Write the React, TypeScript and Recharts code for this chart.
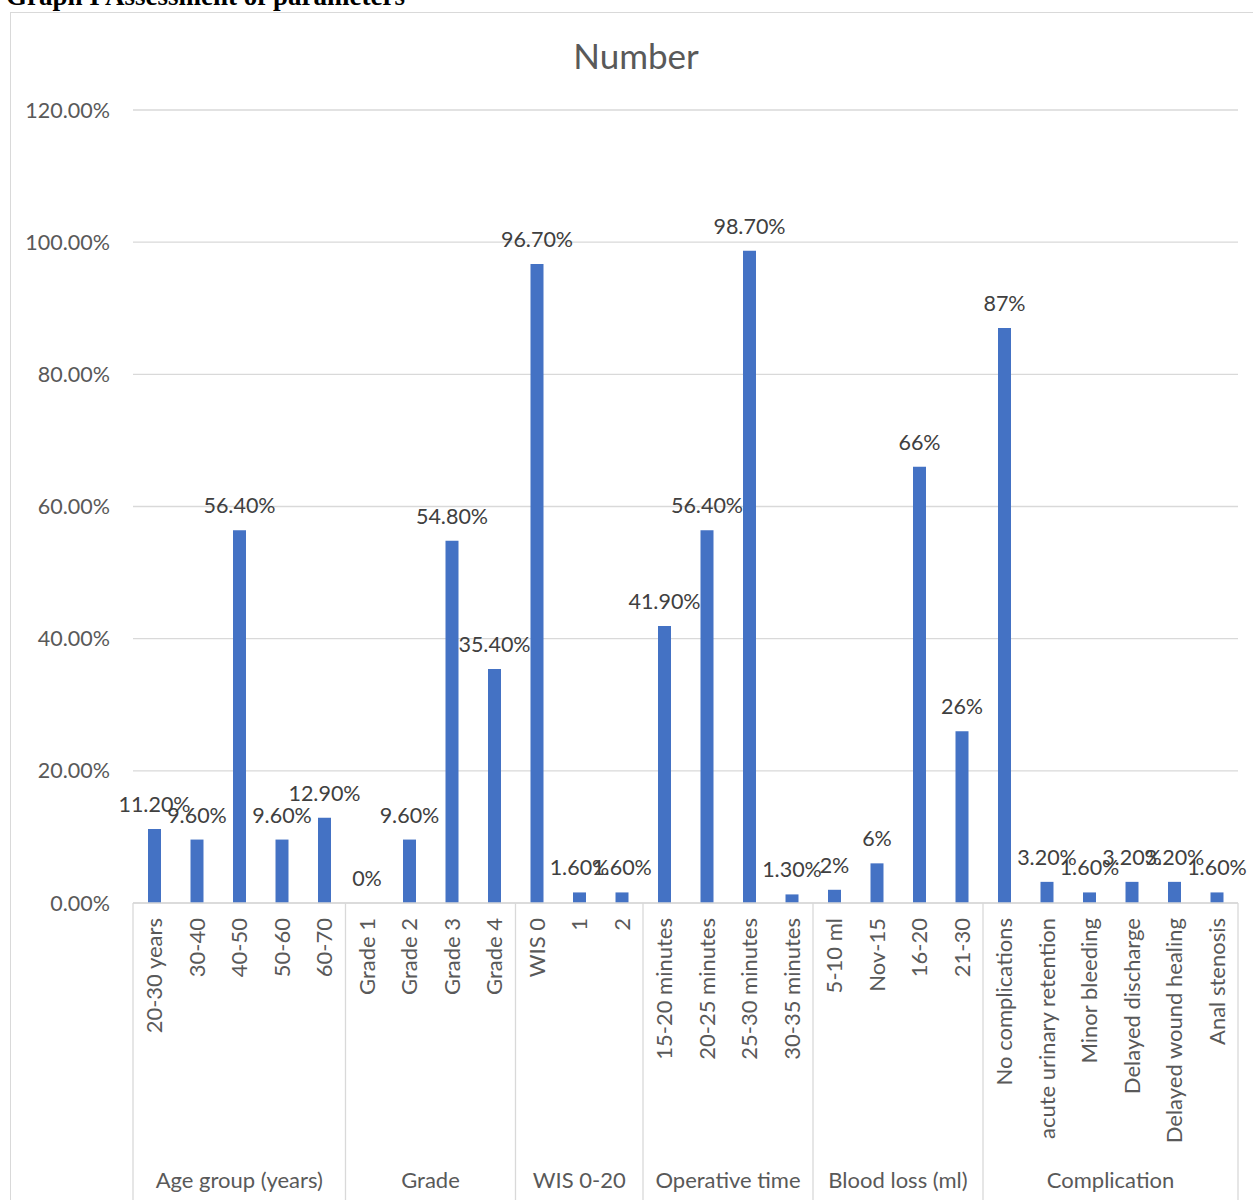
import { BarChart, Bar, XAxis, YAxis, CartesianGrid, LabelList } from 'recharts';

const categories = [
  '20-30 years', '30-40', '40-50', '50-60', '60-70',
  'Grade 1', 'Grade 2', 'Grade 3', 'Grade 4',
  'WIS 0', '1', '2',
  '15-20 minutes', '20-25 minutes', '25-30 minutes', '30-35 minutes',
  '5-10 ml', 'Nov-15', '16-20', '21-30',
  'No complications', 'acute urinary retention', 'Minor bleeding', 'Delayed discharge', 'Delayed wound healing', 'Anal stenosis',
];

const values = [
  0.112, 0.096, 0.564, 0.096, 0.129,
  0, 0.096, 0.548, 0.354,
  0.967, 0.016, 0.016,
  0.419, 0.564, 0.987, 0.013,
  0.02, 0.06, 0.66, 0.26,
  0.87, 0.032, 0.016, 0.032, 0.032, 0.016,
];

const valueLabels = [
  '11.20%', '9.60%', '56.40%', '9.60%', '12.90%',
  '0%', '9.60%', '54.80%', '35.40%',
  '96.70%', '1.60%', '1.60%',
  '41.90%', '56.40%', '98.70%', '1.30%',
  '2%', '6%', '66%', '26%',
  '87%', '3.20%', '1.60%', '3.20%', '3.20%', '1.60%',
];

const groupNames = ['Age group (years)', 'Grade', 'WIS 0-20', 'Operative time', 'Blood loss (ml)', 'Complication'];
const groupSizes = [5, 4, 3, 4, 4, 6];

const yTicks = [0, 0.2, 0.4, 0.6, 0.8, 1.0, 1.2];

// build rows, remembering where each group starts
const groupStart: number[] = [];
groupSizes.reduce((acc, n) => { groupStart.push(acc); return acc + n; }, 0);

const chartData = categories.map((name, i) => {
  let g = 0;
  while (g + 1 < groupStart.length && groupStart[g + 1] <= i) g++;
  return { name, value: values[i], label: valueLabels[i], group: g };
});

const CHART_W = 1250;
const CHART_H = 1195;
const MARGIN = { top: 97, right: 23, bottom: 0, left: 0 };
const Y_W = 122;
const X_H = 305;
const PLOT_W = CHART_W - MARGIN.left - MARGIN.right - Y_W;

const FONT = 'Lato, "Open Sans", sans-serif';

const CategoryTick = (props: any) => {
  const { x, y, index } = props;
  const row = chartData[index];
  if (!row) return null;
  const bw = PLOT_W / chartData.length;
  const g = row.group;
  const isFirst = groupStart[g] === index;
  const isLast = index === chartData.length - 1;
  return (
    <g>
      <text
        x={x}
        y={y + 15}
        transform={`rotate(-90 ${x} ${y + 15})`}
        textAnchor="end"
        dy="0.36em"
        fontSize={22}
        fill="#595959"
        fontFamily={FONT}
      >
        {row.name}
      </text>
      {isFirst && (
        <>
          <line x1={x - bw / 2} y1={y} x2={x - bw / 2} y2={y + X_H} stroke="#d9d9d9" strokeWidth={1.3} />
          <text
            x={x + (groupSizes[g] / 2 - 0.5) * bw}
            y={y + 285}
            textAnchor="middle"
            fontSize={22}
            fill="#595959"
            fontFamily={FONT}
          >
            {groupNames[g]}
          </text>
        </>
      )}
      {isLast && (
        <line x1={x + bw / 2} y1={y} x2={x + bw / 2} y2={y + X_H} stroke="#d9d9d9" strokeWidth={1.3} />
      )}
    </g>
  );
};

export default function App() {
  return (
    <div style={{ position: 'absolute', left: 0, top: 0, width: 1253, height: 1200, overflow: 'hidden', background: '#fff' }}>
      <div
        style={{
          position: 'absolute', left: 6, top: -17, fontFamily: '"Liberation Serif", serif',
          fontWeight: 'bold', fontSize: 27, lineHeight: '27px', color: '#000', whiteSpace: 'nowrap',
        }}
      >
        Graph I Assessment of parameters
      </div>
      <div style={{ position: 'absolute', left: 10, top: 12, width: 1260, height: 1220, border: '1px solid #d9d9d9' }}>
        <div
          style={{
            position: 'absolute', left: 0, top: 22, width: CHART_W, textAlign: 'center',
            fontFamily: FONT, fontSize: 35, lineHeight: '40px', color: '#595959',
          }}
        >
          Number
        </div>
        <BarChart width={CHART_W} height={CHART_H} data={chartData} margin={MARGIN}>
          <CartesianGrid vertical={false} stroke="#d9d9d9" strokeWidth={1.3} />
          <XAxis
            dataKey="name"
            interval={0}
            height={X_H}
            tickLine={false}
            tickSize={0}
            tickMargin={0}
            axisLine={{ stroke: '#d9d9d9', strokeWidth: 1.3 }}
            tick={<CategoryTick />}
          />
          <YAxis
            width={Y_W}
            domain={[0, 1.2]}
            ticks={yTicks}
            axisLine={false}
            tickLine={false}
            tickSize={0}
            tickMargin={23}
            tickFormatter={(v: number) => `${(v * 100).toFixed(2)}%`}
            tick={{ fontSize: 21.5, fill: '#595959', fontFamily: FONT }}
          />
          <Bar dataKey="value" fill="#4472C4" barSize={13} minPointSize={0.01} isAnimationActive={false}>
            <LabelList dataKey="label" position="top" offset={17} fontSize={21.5} fill="#404040" fontFamily={FONT} />
          </Bar>
        </BarChart>
      </div>
    </div>
  );
}
